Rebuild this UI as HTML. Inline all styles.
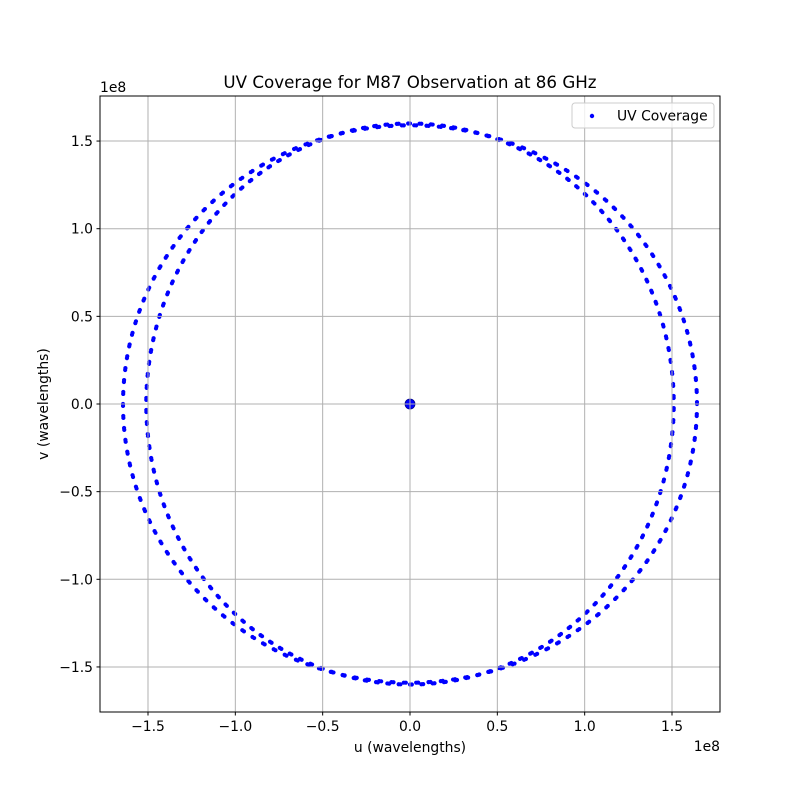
<!DOCTYPE html>
<html><head><meta charset="utf-8"><style>
body{margin:0;background:#fff;}
svg text{font-family:"DejaVu Sans","Liberation Sans",sans-serif;fill:#000;}
</style></head><body>
<svg id="chart" width="800" height="800" viewBox="0 0 800 800" xmlns="http://www.w3.org/2000/svg">
<rect width="800" height="800" fill="#fff"/>
<g id="marks"></g>
<g id="grid"></g>
<rect x="100" y="96" width="620" height="616" fill="none" stroke="#000" stroke-width="1"/>
<g id="ticks"></g>
<text x="410" y="88" font-size="16.7" text-anchor="middle">UV Coverage for M87 Observation at 86 GHz</text>
<text x="410" y="752" font-size="13.9" text-anchor="middle">u (wavelengths)</text>
<text x="0" y="0" font-size="13.9" text-anchor="middle" transform="translate(48,404) rotate(-90)">v (wavelengths)</text>
<text x="100" y="92" font-size="13.9">1e8</text>
<text x="720" y="751" font-size="13.9" text-anchor="end">1e8</text>
<g>
<rect x="572" y="103" width="142" height="25" rx="3" fill="#fff" fill-opacity="0.8" stroke="#ccc"/>
<circle cx="592" cy="116" r="2.2" fill="#0000ff"/>
<text x="617" y="120.5" font-size="13.9">UV Coverage</text>
</g>
</svg>
<script>
// tick values (units of 1e8 wavelengths)
const xTicks = [-1.5,-1.0,-0.5,0.0,0.5,1.0,1.5];
const yTicks = [-1.5,-1.0,-0.5,0.0,0.5,1.0,1.5];
const tickLabels = ["\u22121.5","\u22121.0","\u22120.5","0.0","0.5","1.0","1.5"];
// baseline tracks: semi-axis in u and v (1e8 wavelengths)
const trackU = [1.643, 1.51];
const trackV = [1.59, 1.60];
const trackTilt = [0.0, 0.0];
const samplesPerTrack = 146;
// central (zero-baseline) point
const centerU = [0];
const centerV = [0];

const NS="http://www.w3.org/2000/svg";
const sx = u => 410 + u*174.67;
const sy = v => 404 - v*175.3;
const grid=document.getElementById('grid'), ticks=document.getElementById('ticks'), marks=document.getElementById('marks');
function mk(tag, attrs, parent){const e=document.createElementNS(NS,tag);for(const k in attrs)e.setAttribute(k,attrs[k]);parent.appendChild(e);return e;}
xTicks.forEach((t,i)=>{
  const x=sx(t);
  const g=mk('line',{x1:x,x2:x,y1:96,y2:712,stroke:'#b0b0b0','stroke-width':1},grid);
  
  
  const tk=mk('line',{x1:x,x2:x,y1:712,y2:715.5,stroke:'#000'},ticks);
  
  
  const lb=mk('text',{x:x,y:731,'font-size':13.9,'text-anchor':'middle'},ticks);
  lb.textContent=tickLabels[i];
  
  
});
yTicks.forEach((t,i)=>{
  const y=sy(t);
  const g=mk('line',{x1:100,x2:720,y1:y,y2:y,stroke:'#b0b0b0','stroke-width':1},grid);
  
  
  const tk=mk('line',{x1:96.5,x2:100,y1:y,y2:y,stroke:'#000'},ticks);
  
  
  const lb=mk('text',{x:93,y:y+5,'font-size':13.9,'text-anchor':'end'},ticks);
  lb.textContent=tickLabels[i];
  
  
});
trackU.forEach((a,k)=>{
  const b=trackV[k], th=trackTilt[k];
  for(let i=0;i<samplesPerTrack;i++){
    for(const d of [0,0.007]){
      const t=2*Math.PI*(i+0.5*k)/samplesPerTrack+d;
      const u0=a*Math.cos(t), v0=b*Math.sin(t);
      const u=u0*Math.cos(th)-v0*Math.sin(th), v=u0*Math.sin(th)+v0*Math.cos(th);
      const c=mk('circle',{cx:sx(u),cy:sy(v),r:2.1,fill:'#0000ff'},marks);
      
      
    }
  }
});
centerU.forEach((u,i)=>{
  const c=mk('circle',{cx:sx(u),cy:sy(centerV[i]),r:5,fill:'#0000ff',stroke:'#00008b','stroke-width':0.8},marks);
  
  
});
</script>
</body></html>
